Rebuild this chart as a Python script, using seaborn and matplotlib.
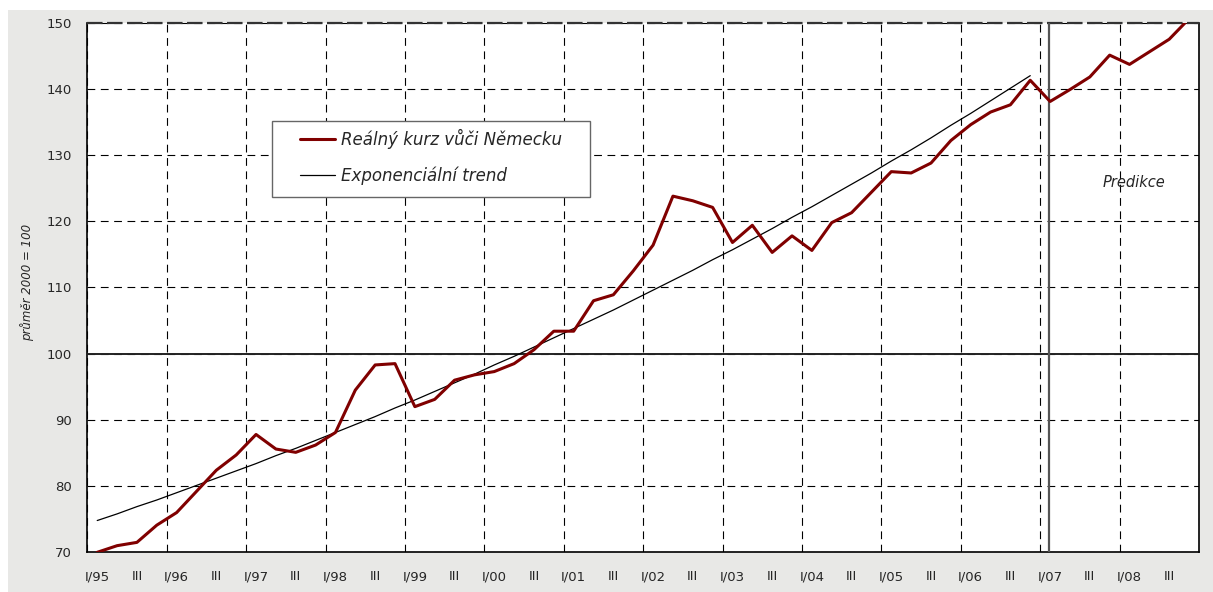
import matplotlib
matplotlib.use("Agg")
import matplotlib.pyplot as plt
import seaborn as sns
import numpy as np
import pandas as pd
from matplotlib.patches import Rectangle

# quarterly data I/95 .. IV/08 (index 2000 = 100)
quarters = [f"{q}/{y:02d}" for y in list(range(95, 100)) + list(range(0, 9)) for q in ["I", "II", "III", "IV"]]
real_rate = [70.0, 71.0, 71.5, 74.1, 76.0, 79.2, 82.4, 84.7,
             87.8, 85.6, 85.1, 86.2, 88.1, 94.5, 98.3, 98.5,
             92.0, 93.1, 96.0, 96.8, 97.3, 98.5, 100.6, 103.4,
             103.4, 108.0, 108.9, 112.5, 116.4, 123.8, 123.1, 122.1,
             116.8, 119.4, 115.3, 117.8, 115.6, 119.8, 121.3, 124.4,
             127.5, 127.3, 128.8, 132.2, 134.6, 136.5, 137.6, 141.3,
             138.1, 139.9, 141.8, 145.1, 143.7, 145.6, 147.5, 150.6]
# trend drawn only up to IV/06
trend = [74.8, 75.8, 76.9, 77.9, 79.0, 80.1, 81.2, 82.3,
         83.4, 84.6, 85.7, 86.9, 88.1, 89.3, 90.5, 91.8,
         93.0, 94.3, 95.6, 96.9, 98.3, 99.6, 101.0, 102.4,
         103.8, 105.2, 106.6, 108.1, 109.6, 111.1, 112.6, 114.2,
         115.7, 117.3, 118.9, 120.6, 122.2, 123.9, 125.6, 127.3,
         129.1, 130.8, 132.6, 134.5, 136.3, 138.2, 140.1, 142.0]
tick_labels = [q if q == "III" else f"{q}/{y}" for q, y in (s.split("/") for s in quarters)]
predikce_from = 48  # I/07

sns.set_style("white")
plt.rcParams["font.family"] = ["DejaVu Sans"]

df = pd.DataFrame({"pos": np.arange(len(quarters)) + 0.5, "real": real_rate})
df_trend = pd.DataFrame({"pos": np.arange(len(trend)) + 0.5, "trend": trend})

fig = plt.figure(figsize=(12.13, 5.92), dpi=100)
fig.patch.set_facecolor("white")
fig.patches.append(Rectangle((8 / 1213, 0), 1 - 8 / 1213, 1 - 10 / 592, transform=fig.transFigure,
                             facecolor="#e8e8e6", edgecolor="none", zorder=-10))

ax = fig.add_axes([87.3 / 1213, 1 - 552.3 / 592, 1111.7 / 1213, 529.6 / 592])
ax.set_facecolor("white")

sns.lineplot(data=df_trend, x="pos", y="trend", ax=ax, color="black", lw=0.9, label="Exponenciální trend", zorder=4)
sns.lineplot(data=df, x="pos", y="real", ax=ax, color="#800000", lw=2.2, label="Reálný kurz vůči Německu", zorder=5)

ax.set_xlim(0, len(quarters))
ax.set_ylim(70, 150)

# grid: dashed lines at year boundaries and every 10 points
ax.set_xticks(np.arange(0, len(quarters) + 1, 4))
ax.set_xticklabels([])
ax.set_xticks(np.arange(len(quarters))[::2] + 0.5, minor=True)
ax.set_xticklabels(tick_labels[::2], minor=True, fontsize=9.5)
ax.tick_params(axis="x", which="minor", length=0, pad=13)
ax.tick_params(axis="x", which="major", direction="inout", length=8, width=1, color="black")
ax.set_yticks(np.arange(70, 151, 10))
ax.tick_params(axis="y", direction="out", length=5, width=1, color="black", labelsize=9.5, pad=6)
ax.grid(True, which="major", color="black", linestyle=(0, (7, 5)), linewidth=0.8)
ax.axhline(100, color="#222222", lw=1.4, zorder=3)
ax.axhline(150, color="#333333", lw=1.6, ls=(0, (7, 2)), zorder=3, clip_on=False)
ax.axvline(predikce_from + 0.45, color="#555555", lw=1.6, zorder=3)

for side in ["left", "bottom", "right"]:
    ax.spines[side].set_color("black")
    ax.spines[side].set_linewidth(1.2)
ax.spines["top"].set_visible(False)
ax.set_xlabel("")
ax.set_ylabel("")

ax.text(52.7, 125.8, "Predikce", fontsize=10.5, style="italic", ha="center", va="center")

fig.text(27 / 1213, 1 - 282 / 592, "průměr 2000 = 100", rotation=90, fontsize=8.5,
         style="italic", ha="center", va="center")

# legend box
bx0, bx1 = (272 - 87.3) / 1111.7, (590 - 87.3) / 1111.7
by0, by1 = 1 - (197 - 22.7) / 529.6, 1 - (121 - 22.7) / 529.6
ax.add_patch(Rectangle((bx0, by0), bx1 - bx0, by1 - by0, transform=ax.transAxes,
                       facecolor="white", edgecolor="#666666", lw=1.0, zorder=6))
handles, labels = ax.get_legend_handles_labels()
leg = ax.legend(handles[::-1], labels[::-1], loc="center left", frameon=False,
                bbox_to_anchor=(bx0 + 0.018, (by0 + by1) / 2 + 0.004), fontsize=12,
                handlelength=2.1, handletextpad=0.35, labelspacing=1.05, borderpad=0)
leg.set_zorder(7)
for t in leg.get_texts():
    t.set_fontstyle("italic")

fig.savefig("out.png", dpi=100)
